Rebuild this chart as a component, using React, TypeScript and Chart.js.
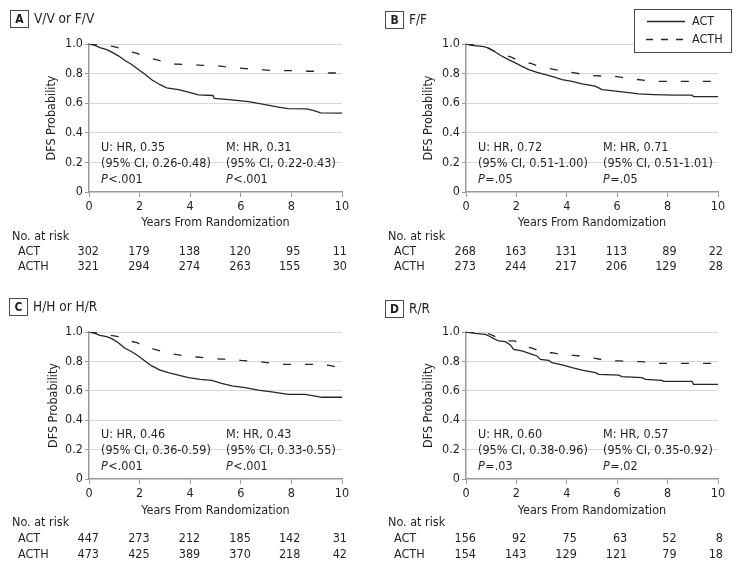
import React, { useEffect, useRef } from "react";
import { Chart, registerables } from "chart.js";

Chart.register(...registerables);

const FONT = "'Liberation Sans Narrow', 'DejaVu Sans Condensed', 'Roboto Condensed', Roboto, sans-serif";
const FS = 12.5;
const TEXT = "#231f20";
const LINE = "#262626";
const AXIS = "#9a9a9a";
const GRID = "#d9d9d9";

const xTicks = [0, 2, 4, 6, 8, 10];
const yTicks = [0, 0.2, 0.4, 0.6, 0.8, 1.0];
const groups = ["ACT", "ACTH"];
const statY = [0.3, 0.19, 0.08];

// Panel A: V/V or F/V
const aActTime = [0, 0.24, 0.43, 0.7, 0.9, 1.16, 1.42, 1.69, 1.95, 2.21, 2.48, 2.81, 3.07, 3.53, 3.93, 4.32, 4.9, 4.95, 5.64, 6.3, 6.69, 7.02, 7.48, 7.87, 8.6, 8.93, 9.15, 10];
const aActProb = [1, 0.99, 0.975, 0.962, 0.945, 0.92, 0.888, 0.862, 0.828, 0.795, 0.758, 0.725, 0.704, 0.692, 0.675, 0.656, 0.652, 0.632, 0.623, 0.61, 0.599, 0.588, 0.574, 0.563, 0.562, 0.548, 0.535, 0.533];
const aActhTime = [0, 0.5, 0.9, 1.2, 1.6, 1.9, 2.35, 2.65, 3.1, 3.4, 4.1, 4.45, 5.05, 5.35, 5.9, 6.2, 6.8, 7.1, 7.7, 8.1, 8.64, 9.0, 9.5, 10];
const aActhProb = [1, 0.995, 0.985, 0.972, 0.948, 0.937, 0.906, 0.894, 0.872, 0.865, 0.86, 0.856, 0.854, 0.847, 0.838, 0.834, 0.827, 0.822, 0.82, 0.82, 0.816, 0.816, 0.804, 0.804];
const aRiskAct = [302, 179, 138, 120, 95, 11];
const aRiskActh = [321, 294, 274, 263, 155, 30];
const aU = ["U: HR, 0.35", "(95% CI, 0.26-0.48)", "<.001"];
const aM = ["M: HR, 0.31", "(95% CI, 0.22-0.43)", "<.001"];

// Panel B: F/F
const bActTime = [0, 0.24, 0.7, 0.9, 1.16, 1.43, 1.69, 1.96, 2.22, 2.49, 2.82, 3.15, 3.48, 3.81, 4.21, 4.6, 5.13, 5.4, 5.93, 6.46, 6.85, 7.45, 8.3, 8.97, 9.03, 10];
const bActProb = [1, 0.991, 0.982, 0.973, 0.946, 0.917, 0.894, 0.872, 0.849, 0.827, 0.809, 0.793, 0.778, 0.76, 0.748, 0.73, 0.715, 0.692, 0.681, 0.672, 0.663, 0.658, 0.654, 0.654, 0.645, 0.645];
const bActhTime = [0, 0.5, 0.83, 1.15, 1.56, 1.82, 2.22, 2.55, 3.0, 3.3, 3.9, 4.15, 4.7, 5.0, 5.7, 6.0, 6.5, 6.8, 7.35, 7.6, 10];
const bActhProb = [1, 0.99, 0.975, 0.95, 0.924, 0.91, 0.876, 0.87, 0.843, 0.834, 0.816, 0.809, 0.793, 0.786, 0.782, 0.78, 0.766, 0.76, 0.75, 0.748, 0.748];
const bRiskAct = [268, 163, 131, 113, 89, 22];
const bRiskActh = [273, 244, 217, 206, 129, 28];
const bU = ["U: HR, 0.72", "(95% CI, 0.51-1.00)", "=.05"];
const bM = ["M: HR, 0.71", "(95% CI, 0.51-1.01)", "=.05"];

// Panel C: H/H or H/R
const cActTime = [0, 0.24, 0.43, 0.7, 0.9, 1.16, 1.42, 1.69, 1.95, 2.21, 2.48, 2.81, 3.14, 3.53, 3.93, 4.39, 4.85, 5.24, 5.64, 6.17, 6.69, 7.22, 7.88, 8.54, 9.06, 9.2, 10];
const cActProb = [1, 0.991, 0.977, 0.968, 0.955, 0.927, 0.889, 0.866, 0.837, 0.803, 0.769, 0.741, 0.723, 0.707, 0.689, 0.678, 0.671, 0.651, 0.633, 0.621, 0.605, 0.592, 0.576, 0.576, 0.56, 0.556, 0.556];
const cActhTime = [0, 0.5, 0.87, 1.16, 1.6, 1.9, 2.3, 2.6, 3.07, 3.4, 3.9, 4.25, 4.85, 5.2, 5.7, 6.0, 6.6, 6.95, 7.5, 8.8, 9.5, 9.75, 10];
const cActhProb = [1, 0.99, 0.977, 0.968, 0.939, 0.927, 0.893, 0.882, 0.857, 0.848, 0.834, 0.83, 0.821, 0.816, 0.814, 0.807, 0.8, 0.794, 0.78, 0.78, 0.773, 0.764, 0.764];
const cRiskAct = [447, 273, 212, 185, 142, 31];
const cRiskActh = [473, 425, 389, 370, 218, 42];
const cU = ["U: HR, 0.46", "(95% CI, 0.36-0.59)", "<.001"];
const cM = ["M: HR, 0.43", "(95% CI, 0.33-0.55)", "<.001"];

// Panel D: R/R
const dActTime = [0, 0.37, 0.77, 0.97, 1.1, 1.3, 1.56, 1.76, 1.89, 2.22, 2.62, 2.82, 2.95, 3.28, 3.41, 3.81, 4.21, 4.6, 5.13, 5.27, 6.06, 6.19, 6.98, 7.12, 7.78, 7.84, 8.97, 9.03, 10];
const dActProb = [1, 0.991, 0.984, 0.968, 0.955, 0.939, 0.934, 0.912, 0.882, 0.871, 0.848, 0.837, 0.814, 0.807, 0.791, 0.776, 0.757, 0.741, 0.723, 0.712, 0.707, 0.696, 0.689, 0.678, 0.671, 0.664, 0.664, 0.644, 0.644];
const dActhTime = [0, 0.5, 0.87, 1.1, 1.56, 1.93, 2.35, 2.62, 3.08, 3.4, 3.94, 4.27, 4.87, 5.13, 5.66, 6.06, 6.6, 7.0, 7.5, 10];
const dActhProb = [1, 0.995, 0.99, 0.973, 0.939, 0.939, 0.9, 0.891, 0.859, 0.859, 0.841, 0.841, 0.83, 0.821, 0.803, 0.803, 0.798, 0.798, 0.787, 0.787];
const dRiskAct = [156, 92, 75, 63, 52, 8];
const dRiskActh = [154, 143, 129, 121, 79, 18];
const dU = ["U: HR, 0.60", "(95% CI, 0.38-0.96)", "=.03"];
const dM = ["M: HR, 0.57", "(95% CI, 0.35-0.92)", "=.02"];

const riskOffset = [10, 10, 10, 10, 9, 5];

type Lay = {
  left: number; top: number; w: number; h: number;
  padL: number; padR: number; padT: number; padB: number;
  yW: number; xH: number;
  boxX: number; boxY: number; riskX: number; riskY: number[];
};

type PanelDef = {
  letter: string; subtitle: string;
  actTime: number[]; actProb: number[]; acthTime: number[]; acthProb: number[];
  riskAct: number[]; riskActh: number[];
  u: string[]; m: string[]; legend: boolean; lay: Lay;
};

const panels: PanelDef[] = [
  {
    letter: "A", subtitle: "V/V or F/V",
    actTime: aActTime, actProb: aActProb, acthTime: aActhTime, acthProb: aActhProb,
    riskAct: aRiskAct, riskActh: aRiskActh, u: aU, m: aM, legend: false,
    lay: { left: 0, top: 0, w: 370, h: 280, padL: 44, padR: 28, padT: 44, padB: 50, yW: 45, xH: 38, boxX: 10, boxY: 10, riskX: 12, riskY: [237, 252, 267] },
  },
  {
    letter: "B", subtitle: "F/F",
    actTime: bActTime, actProb: bActProb, acthTime: bActhTime, acthProb: bActhProb,
    riskAct: bRiskAct, riskActh: bRiskActh, u: bU, m: bM, legend: true,
    lay: { left: 370, top: 0, w: 371, h: 280, padL: 51, padR: 23, padT: 44, padB: 50, yW: 45, xH: 38, boxX: 15, boxY: 11, riskX: 18, riskY: [237, 252, 267] },
  },
  {
    letter: "C", subtitle: "H/H or H/R",
    actTime: cActTime, actProb: cActProb, acthTime: cActhTime, acthProb: cActhProb,
    riskAct: cRiskAct, riskActh: cRiskActh, u: cU, m: cM, legend: false,
    lay: { left: 0, top: 280, w: 370, h: 288, padL: 46, padR: 28, padT: 52, padB: 50, yW: 43, xH: 39, boxX: 9, boxY: 18, riskX: 12, riskY: [243, 259, 275] },
  },
  {
    letter: "D", subtitle: "R/R",
    actTime: dActTime, actProb: dActProb, acthTime: dActhTime, acthProb: dActhProb,
    riskAct: dRiskAct, riskActh: dRiskActh, u: dU, m: dM, legend: false,
    lay: { left: 370, top: 280, w: 371, h: 288, padL: 51, padR: 23, padT: 52, padB: 50, yW: 45, xH: 39, boxX: 15, boxY: 20, riskX: 18, riskY: [243, 259, 275] },
  },
];

function pts(t: number[], p: number[]) {
  return t.map((x, i) => ({ x, y: p[i] }));
}

function makeExtras(def: PanelDef) {
  return {
    id: "extras" + def.letter,
    afterDraw(chart: any) {
      const ctx = chart.ctx as CanvasRenderingContext2D;
      const ca = chart.chartArea;
      const xs = chart.scales.x;
      const ys = chart.scales.y;
      const L = def.lay;
      ctx.save();
      // panel label
      ctx.strokeStyle = "#4a4a4a";
      ctx.lineWidth = 1;
      ctx.strokeRect(L.boxX + 0.5, L.boxY + 0.5, 18, 17);
      ctx.fillStyle = TEXT;
      ctx.textBaseline = "middle";
      ctx.textAlign = "center";
      ctx.font = `bold 12px ${FONT}`;
      ctx.fillText(def.letter, L.boxX + 9.5, L.boxY + 9.5);
      ctx.textAlign = "left";
      ctx.font = `13.5px ${FONT}`;
      ctx.fillText(def.subtitle, L.boxX + 24, L.boxY + 9.5);

      // stats
      const sx = [ca.left + 12, ca.left + 137];
      const st = [def.u, def.m];
      for (let k = 0; k < 2; k++) {
        const s = st[k];
        ctx.font = `${FS}px ${FONT}`;
        ctx.fillText(s[0], sx[k], ys.getPixelForValue(statY[0]));
        ctx.fillText(s[1], sx[k], ys.getPixelForValue(statY[1]));
        const y3 = ys.getPixelForValue(statY[2]);
        ctx.font = `italic ${FS}px ${FONT}`;
        ctx.fillText("P", sx[k], y3);
        const w = ctx.measureText("P").width;
        ctx.font = `${FS}px ${FONT}`;
        ctx.fillText(s[2], sx[k] + w + 0.5, y3);
      }

      // risk table
      ctx.font = `${FS}px ${FONT}`;
      ctx.textAlign = "left";
      ctx.fillText("No. at risk", L.riskX, L.riskY[0]);
      ctx.fillText(groups[0], L.riskX + 6, L.riskY[1]);
      ctx.fillText(groups[1], L.riskX + 6, L.riskY[2]);
      ctx.textAlign = "right";
      xTicks.forEach((t, i) => {
        const px = xs.getPixelForValue(t) + riskOffset[i];
        ctx.fillText(String(def.riskAct[i]), px, L.riskY[1]);
        ctx.fillText(String(def.riskActh[i]), px, L.riskY[2]);
      });

      // legend
      if (def.legend) {
        const bx = 264, by = 9, bw = 97, bh = 43;
        ctx.fillStyle = "#fff";
        ctx.fillRect(bx, by, bw, bh);
        ctx.strokeStyle = "#4a4a4a";
        ctx.lineWidth = 1;
        ctx.strokeRect(bx + 0.5, by + 0.5, bw, bh);
        ctx.strokeStyle = LINE;
        ctx.lineWidth = 1.3;
        ctx.beginPath();
        ctx.moveTo(277, 21.5);
        ctx.lineTo(315, 21.5);
        ctx.stroke();
        ctx.setLineDash([7, 8]);
        ctx.beginPath();
        ctx.moveTo(276, 39.5);
        ctx.lineTo(316, 39.5);
        ctx.stroke();
        ctx.setLineDash([]);
        ctx.fillStyle = TEXT;
        ctx.textAlign = "left";
        ctx.font = `${FS}px ${FONT}`;
        ctx.fillText(groups[0], 322, 21.5);
        ctx.fillText(groups[1], 322, 39.5);
      }
      ctx.restore();
    },
  };
}

function Panel({ def }: { def: PanelDef }) {
  const ref = useRef<HTMLCanvasElement | null>(null);
  useEffect(() => {
    const L = def.lay;
    const font = { family: FONT, size: FS };
    const chart = new Chart(ref.current as HTMLCanvasElement, {
      type: "line",
      data: {
        datasets: [
          {
            label: groups[0],
            data: pts(def.actTime, def.actProb),
            borderColor: LINE,
            borderWidth: 1.3,
            pointRadius: 0,
            fill: false,
            tension: 0,
          },
          {
            label: groups[1],
            data: pts(def.acthTime, def.acthProb),
            borderColor: LINE,
            borderWidth: 1.3,
            borderDash: [8, 14],
            pointRadius: 0,
            fill: false,
            tension: 0,
          },
        ],
      },
      options: {
        animation: false,
        responsive: false,
        devicePixelRatio: 1,
        layout: { padding: { left: L.padL, right: L.padR, top: L.padT, bottom: L.padB } },
        plugins: { legend: { display: false }, tooltip: { enabled: false } },
        scales: {
          x: {
            type: "linear",
            min: 0,
            max: 10,
            afterBuildTicks: (s: any) => {
              s.ticks = xTicks.map((v) => ({ value: v }));
            },
            ticks: { color: TEXT, font, padding: 2, maxRotation: 0, autoSkip: false },
            grid: { drawOnChartArea: false, drawTicks: true, tickLength: 5, tickColor: AXIS },
            border: { color: AXIS, width: 1.5 },
            title: {
              display: true,
              text: "Years From Randomization",
              color: TEXT,
              font,
              padding: { top: 0, bottom: 0 },
            },
            afterFit: (s: any) => {
              s.height = L.xH;
            },
          },
          y: {
            type: "linear",
            min: 0,
            max: 1,
            afterBuildTicks: (s: any) => {
              s.ticks = yTicks.map((v) => ({ value: v }));
            },
            ticks: {
              color: TEXT,
              font,
              padding: 2,
              callback: (v: any) => (Number(v) === 0 ? "0" : Number(v).toFixed(1)),
            },
            grid: {
              color: (c: any) => (c.tick && c.tick.value === 0 ? "rgba(0,0,0,0)" : GRID),
              tickColor: AXIS,
              tickLength: 4,
              lineWidth: 1,
            },
            border: { color: AXIS, width: 1.5 },
            title: {
              display: true,
              text: "DFS Probability",
              color: TEXT,
              font,
              padding: { top: 0, bottom: 0 },
            },
            afterFit: (s: any) => {
              s.width = L.yW;
            },
          },
        },
      } as any,
      plugins: [makeExtras(def)],
    });
    return () => chart.destroy();
  }, [def]);
  const L = def.lay;
  return (
    <canvas
      ref={ref}
      width={L.w}
      height={L.h}
      style={{ position: "absolute", left: L.left, top: L.top, width: L.w, height: L.h }}
    />
  );
}

export default function App() {
  return (
    <div style={{ position: "absolute", left: 0, top: 0, width: 741, height: 568, background: "#fff", overflow: "hidden" }}>
      {panels.map((p) => (
        <Panel key={p.letter} def={p} />
      ))}
    </div>
  );
}
